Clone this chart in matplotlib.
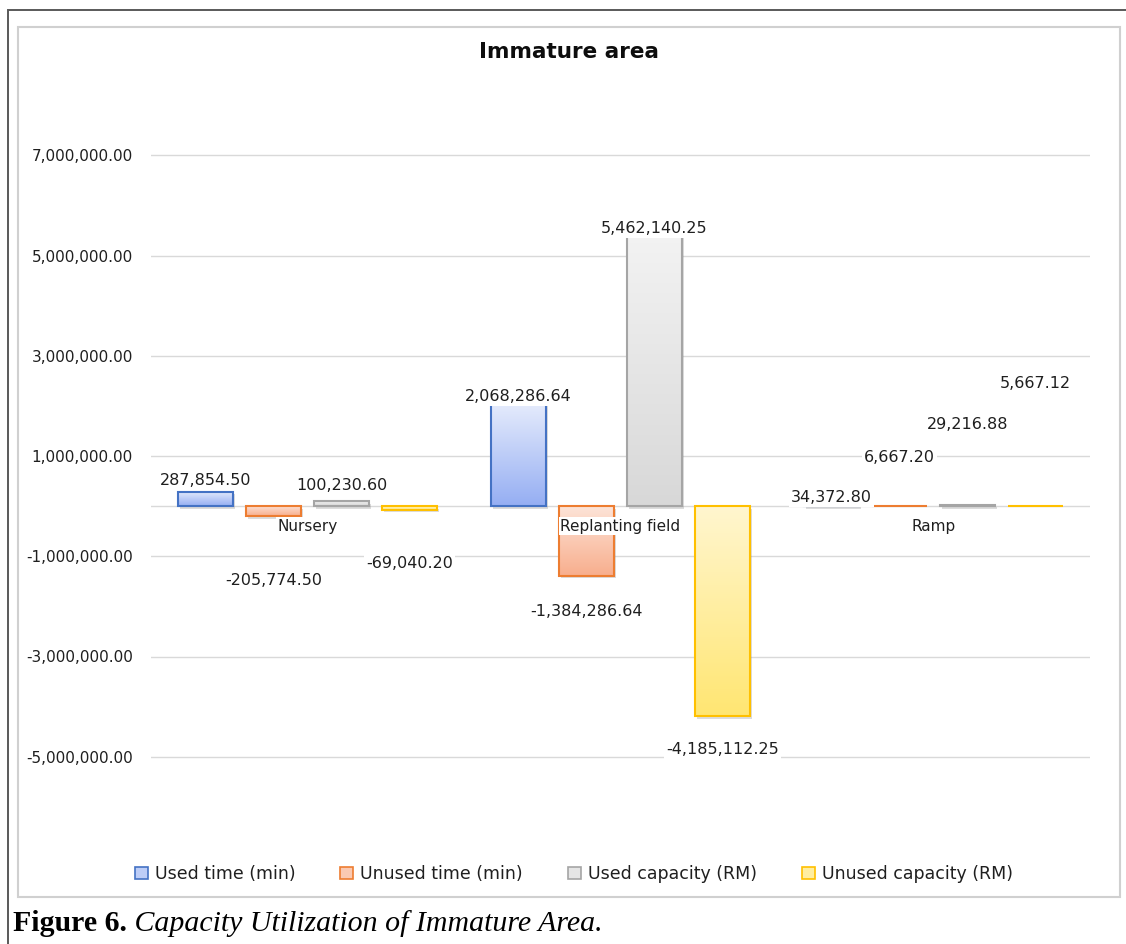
import numpy as np
import matplotlib
matplotlib.use("Agg")
from matplotlib import pyplot as plt
from matplotlib.patches import Rectangle
from matplotlib.colors import LinearSegmentedColormap
import matplotlib.patheffects as pe


# Dados ----------------------------->>>>>
categorias = ["Nursery", "Replanting field", "Ramp"]
series = ["Used time (min)", "Unused time (min)", "Used capacity (RM)", "Unused capacity (RM)"]

used_time = [287854.50, 2068286.64, 34372.80]
unused_time = [-205774.50, -1384286.64, 6667.20]
used_capacity = [100230.60, 5462140.25, 29216.88]
unused_capacity = [-69040.20, -4185112.25, 5667.12]

valores = [used_time, unused_time, used_capacity, unused_capacity]

# posicao vertical (em unidades do eixo) onde o Excel deixou cada rotulo
label_y = [
    [518000, 2193000, 179000],
    [-1475000, -2093000, 977000],
    [419000, 5541000, 1634000],
    [-1136000, -4863000, 2452000],
]

y_ticks = [-5e6, -3e6, -1e6, 1e6, 3e6, 5e6, 7e6]

# Estilos ----------------------------->>>>>
bordas = ["#4472C4", "#ED7D31", "#A5A5A5", "#FFC000"]
grad_topo = ["#e6ecfc", "#fde4d8", "#f3f3f3", "#fff6cf"]
grad_base = ["#95aef3", "#f8ae8d", "#d8d8d8", "#ffe672"]
cor_texto = "#1f1f1f"

fig = plt.figure(figsize=(11.26, 9.44), dpi=100)
W, H = 1126, 944

# Molduras:
fig.patches.append(Rectangle((8 / W, -0.1), 1.2, 1 - 10 / H + 0.1, transform=fig.transFigure,
                             fill=False, edgecolor="#595959", lw=1.4))
fig.patches.append(Rectangle((18 / W, 1 - 897 / H), (1120 - 18) / W, (897 - 27) / H,
                             transform=fig.transFigure, fill=False, edgecolor="#d0d0d0", lw=1.5))

ax = fig.add_axes([151 / W, 1 - 857 / H, (1090 - 151) / W, (857 - 55) / H])

x = np.arange(len(categorias))
passo = 68 / 313
largura = 55 / 313

for i, vals in enumerate(valores):
    pos = x + (i - 1.5) * passo

    # sombra
    ax.bar(pos, vals, largura, color="white", edgecolor="none", zorder=2,
           path_effects=[pe.SimplePatchShadow(offset=(1.5, -2), shadow_rgbFace="#8c8c8c", alpha=0.3)])

    # borda
    barras = ax.bar(pos, vals, largura, facecolor="none", edgecolor=bordas[i], lw=1.5,
                    zorder=4, label=series[i])

    # gradiente (claro em cima, escuro embaixo)
    cmap = LinearSegmentedColormap.from_list("g%d" % i, [grad_topo[i], grad_base[i]])
    grad = np.linspace(0, 1, 256).reshape(-1, 1)
    for b in barras:
        x0, y0 = b.get_x(), b.get_y()
        w, h = b.get_width(), b.get_height()
        ylo, yhi = min(y0, y0 + h), max(y0, y0 + h)
        im = ax.imshow(grad, cmap=cmap, aspect="auto", extent=(x0, x0 + w, ylo, yhi),
                       origin="upper", zorder=3, interpolation="bilinear")
        im.set_clip_path(b)

    # rotulos
    for j, v in enumerate(vals):
        ax.text(pos[j], label_y[i][j], "{:,.2f}".format(v), ha="center", va="center",
                fontsize=11.5, color=cor_texto, zorder=6,
                bbox=dict(facecolor="white", edgecolor="none", pad=1.5))

ax.set_xlim(-0.5, 2.5)
ax.set_ylim(-7e6, 9e6)

# Grade e eixo zero:
ax.set_yticks(y_ticks)
ax.set_yticklabels(["{:,.2f}".format(t) for t in y_ticks])
ax.yaxis.grid(True, color="#d9d9d9", lw=1)
ax.set_axisbelow(True)
ax.axhline(0, color="#d9d9d9", lw=1, zorder=1)
ax.set_xticks([])
ax.tick_params(axis="y", length=0, pad=13, labelsize=11, labelcolor=cor_texto)
for s in ax.spines.values():
    s.set_visible(False)

# Nomes das categorias logo abaixo do eixo:
for j, c in enumerate(categorias):
    ax.annotate(c, (x[j], 0), xytext=(0, -20), textcoords="offset pixels", ha="center",
                va="center", fontsize=11, color=cor_texto, zorder=7,
                bbox=dict(facecolor="white", edgecolor="none", pad=1))

# Titulo:
fig.text(569 / W, 1 - 52 / H, "Immature area", ha="center", va="center",
         fontsize=15.5, fontweight="bold", color="#0d0d0d")

# Legenda:
handles = []
for i in range(4):
    meio = LinearSegmentedColormap.from_list("l", [grad_topo[i], grad_base[i]])(0.5)
    handles.append(Rectangle((0, 0), 1, 1, facecolor=meio, edgecolor=bordas[i], lw=1.2))
fig.legend(handles, series, loc="center", bbox_to_anchor=(574 / W, 1 - 874 / H), ncol=4,
           frameon=False, fontsize=12.5, handlelength=0.75, handleheight=0.75,
           handletextpad=0.4, columnspacing=2.6, labelcolor=cor_texto)

# Legenda da figura:
t1 = fig.text(13 / W, 1 - 931 / H, "Figure 6.", fontsize=21.5, fontweight="bold",
              family="Liberation Serif", va="baseline")
ax.annotate(" Capacity Utilization of Immature Area.", xy=(1, 0), xycoords=t1,
            xytext=(0, 0), textcoords="offset points", va="bottom", ha="left",
            fontsize=21.5, fontstyle="italic", family="Liberation Serif", annotation_clip=False)

plt.savefig("out.png", dpi=100)
